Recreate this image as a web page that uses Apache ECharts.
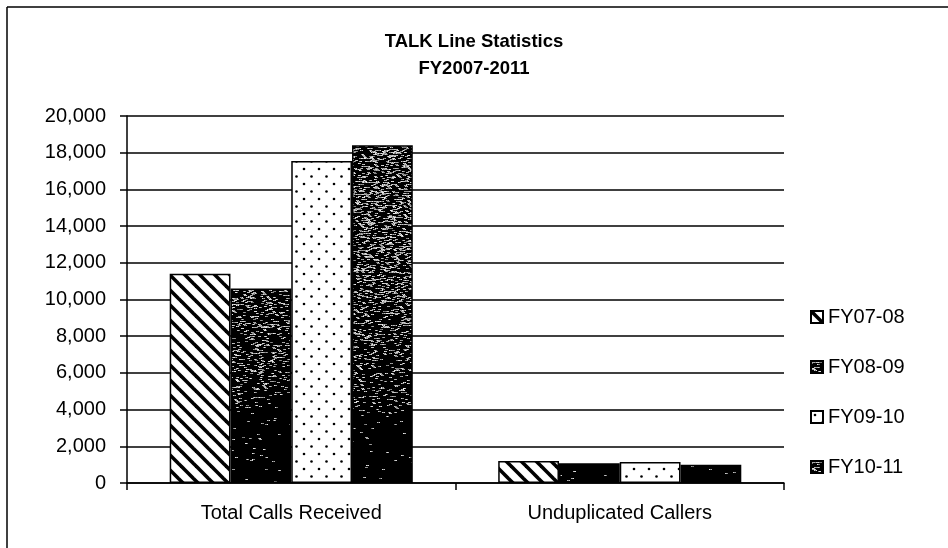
<!DOCTYPE html>
<html>
<head>
<meta charset="utf-8">
<script src="https://cdn.jsdelivr.net/npm/echarts@6/dist/echarts.min.js"></script>
<style>
  html, body { margin: 0; padding: 0; background: #fff; }
  #chart { width: 948px; height: 548px; }
</style>
</head>
<body>
<div id="chart"></div>
<script>
// Chart data
const categories = ['Total Calls Received', 'Unduplicated Callers'];
const seriesNames = ['FY07-08', 'FY08-09', 'FY09-10', 'FY10-11'];
const fy0708 = [11400, 1200];
const fy0809 = [10600, 1080];
const fy0910 = [17550, 1150];
const fy1011 = [18400, 1000];
const yMin = 0, yMax = 20000, yStep = 2000;

const FONT = '"Liberation Sans", Arial, sans-serif';

// Diagonal hatch fill ("\" stripes on white)
function hatchPattern() {
  const s = 15, c = document.createElement('canvas');
  c.width = s; c.height = s;
  const g = c.getContext('2d');
  g.fillStyle = '#fff'; g.fillRect(0, 0, s, s);
  g.strokeStyle = '#000'; g.lineWidth = 3.6;
  for (const k of [-s, 0, s]) {
    g.beginPath(); g.moveTo(-3, k - 3); g.lineTo(s + 3, s + k + 3); g.stroke();
  }
  return { image: c, repeat: 'repeat' };
}

// Staggered dot fill on white
function dotPattern() {
  const w = 15, h = 15, c = document.createElement('canvas');
  c.width = w; c.height = h;
  const g = c.getContext('2d');
  g.fillStyle = '#fff'; g.fillRect(0, 0, w, h);
  g.fillStyle = '#000';
  [[4, 4], [11.5, 11.5]].forEach(([x, y]) => {
    g.beginPath(); g.arc(x, y, 1.3, 0, Math.PI * 2); g.fill();
  });
  return { image: c, repeat: 'repeat' };
}

// Dark speckled fill: grey streaks near the top, near-solid black lower down
function speckPattern() {
  const W = 948, H = 548, c = document.createElement('canvas');
  c.width = W; c.height = H;
  const g = c.getContext('2d');
  const img = g.createImageData(W, H);
  const hash = (x, y) => {
    let n = Math.imul(x, 374761393) + Math.imul(y, 668265263);
    n = Math.imul(n ^ (n >>> 13), 1274126177);
    return ((n ^ (n >>> 16)) >>> 0) / 4294967296;
  };
  const blackShare = (y) => {
    if (y <= 250) return 0.66;
    if (y <= 400) return 0.66 + (y - 250) / 150 * 0.2;
    if (y <= 415) return 0.86 + (y - 400) / 15 * 0.12;
    return 0.98;
  };
  for (let y = 0; y < H; y++) {
    const p = blackShare(y);
    for (let x = 0; x < W; x++) {
      const r = hash(Math.floor((x + (y % 3) * 2) / 3), y);
      let v = 0;
      if (r > p) v = 110 + Math.floor(hash(x, y + 7919) * 130);
      const i = (y * W + x) * 4;
      img.data[i] = img.data[i + 1] = img.data[i + 2] = v;
      img.data[i + 3] = 255;
    }
  }
  g.putImageData(img, 0, 0);
  return { image: c, repeat: 'repeat' };
}

const fills = [hatchPattern(), speckPattern(), dotPattern(), speckPattern()];
const values = [fy0708, fy0809, fy0910, fy1011];

const chart = echarts.init(document.getElementById('chart'), null, { renderer: 'canvas' });

chart.setOption({
  animation: false,
  backgroundColor: '#fff',
  title: {
    text: 'TALK Line Statistics\nFY2007-2011',
    left: 'center',
    top: 28,
    padding: [0, 0, 0, 20],
    textStyle: { fontFamily: FONT, fontWeight: 'bold', fontSize: 18.5, lineHeight: 27, color: '#000' }
  },
  legend: {
    orient: 'vertical',
    left: 810,
    top: 307,
    itemWidth: 12,
    itemHeight: 12,
    itemGap: 30,
    padding: 0,
    selectedMode: false,
    icon: 'rect',
    textStyle: { fontFamily: FONT, fontSize: 20, color: '#000' },
    data: seriesNames
  },
  grid: { left: 127, right: 164, top: 116, bottom: 65, containLabel: false },
  xAxis: {
    type: 'category',
    data: categories,
    axisLine: { lineStyle: { color: '#000', width: 1.5 } },
    axisTick: { show: true, length: 7, lineStyle: { color: '#000', width: 1.5 } },
    axisLabel: { margin: 20, fontFamily: FONT, fontSize: 20, color: '#000' }
  },
  yAxis: {
    type: 'value',
    min: yMin,
    max: yMax,
    interval: yStep,
    axisLine: { show: true, lineStyle: { color: '#000', width: 1.5 } },
    axisTick: { show: true, length: 7, lineStyle: { color: '#000', width: 1.5 } },
    splitLine: { lineStyle: { color: '#000', width: 1.5 } },
    axisLabel: {
      margin: 21, fontFamily: FONT, fontSize: 20, color: '#000',
      formatter: (v) => v.toLocaleString('en-US')
    }
  },
  graphic: [
    { type: 'line', shape: { x1: 7, y1: 7, x2: 948, y2: 7 }, style: { stroke: '#000', lineWidth: 1.5 }, silent: true },
    { type: 'line', shape: { x1: 7, y1: 7, x2: 7, y2: 548 }, style: { stroke: '#000', lineWidth: 1.5 }, silent: true }
  ],
  series: seriesNames.map((name, i) => ({
    name,
    type: 'bar',
    data: values[i],
    barGap: '0%',
    barCategoryGap: '26%',
    itemStyle: {
      color: fills[i],
      borderColor: '#000',
      borderWidth: 1.5
    }
  }))
});
</script>
</body>
</html>
